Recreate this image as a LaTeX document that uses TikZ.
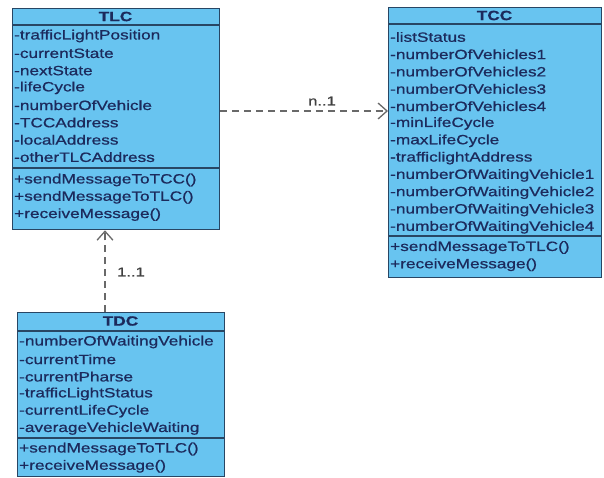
\documentclass[tikz,border=0pt]{standalone}
\usepackage{fontspec}
\setmainfont{Liberation Sans}[FakeStretch=1.28, FakeBold=0.8]
\usetikzlibrary{arrows.meta}

\definecolor{classfill}{RGB}{104,196,240}
\definecolor{classline}{RGB}{40,70,100}
\definecolor{classtext}{RGB}{28,42,92}
\definecolor{deplink}{RGB}{105,105,105}

\tikzset{
  classbox/.style={draw=classline, line width=1.3pt, fill=classfill, anchor=north west, inner sep=0pt},
  divider/.style={draw=classline, line width=1.1pt},
  member/.style={anchor=west, inner sep=0pt, text=classtext, font=\fontsize{13.5}{15}\selectfont},
  title/.style={inner sep=0pt, text=classtext, font=\bfseries\fontsize{13.5}{15}\selectfont},
  dep/.style={draw=deplink, line width=1.3pt, dash pattern=on 7pt off 5pt,
    -{Straight Barb[length=9pt, width=16pt, line width=1.3pt]}},
  mult/.style={inner sep=0pt, text=black!75, font=\fontsize{13}{15}\selectfont}
}

\begin{document}
\begin{tikzpicture}[x=1bp, y=-1bp]
\useasboundingbox (0,0) rectangle (604,478);

% ---- TLC ----
\node[classbox, minimum width=207bp, minimum height=221bp] (TLC) at (12,8) {};
\draw[divider] (12,25) -- (219,25);
\draw[divider] (12,168) -- (219,168);
\node[title] (tlc-name) at (115.5,16.5) {TLC};
\foreach \t [count=\i] in {-trafficLightPosition,-currentState,-nextState,-lifeCycle,-numberOfVehicle,-TCCAddress,-localAddress,-otherTLCAddress}
  \node[member] (tlc-a\i) at (14,{36+17.3*(\i-1)}) {\t};
\foreach \t [count=\i] in {+sendMessageToTCC(),+sendMessageToTLC(),+receiveMessage()}
  \node[member] (tlc-m\i) at (14,{180+17.3*(\i-1)}) {\t};

% ---- TCC ----
\node[classbox, minimum width=213bp, minimum height=270bp] (TCC) at (388,7) {};
\draw[divider] (388,24) -- (601,24);
\draw[divider] (388,236) -- (601,236);
\node[title] (tcc-name) at (494.5,15.5) {TCC};
\foreach \t [count=\i] in {-listStatus,-numberOfVehicles1,-numberOfVehicles2,-numberOfVehicles3,-numberOfVehicles4,-minLifeCycle,-maxLifeCycle,-trafficlightAddress,-numberOfWaitingVehicle1,-numberOfWaitingVehicle2,-numberOfWaitingVehicle3,-numberOfWaitingVehicle4}
  \node[member] (tcc-a\i) at (390,{37+17.3*(\i-1)}) {\t};
\foreach \t [count=\i] in {+sendMessageToTLC(),+receiveMessage()}
  \node[member] (tcc-m\i) at (390,{247.5+17.3*(\i-1)}) {\t};

% ---- TDC ----
\node[classbox, minimum width=207bp, minimum height=164bp] (TDC) at (17,312) {};
\draw[divider] (17,331) -- (224,331);
\draw[divider] (17,438) -- (224,438);
\node[title] (tdc-name) at (120.5,321) {TDC};
\foreach \t [count=\i] in {-numberOfWaitingVehicle,-currentTime,-currentPharse,-trafficLightStatus,-currentLifeCycle,-averageVehicleWaiting}
  \node[member] (tdc-a\i) at (19,{342+17.3*(\i-1)}) {\t};
\foreach \t [count=\i] in {+sendMessageToTLC(),+receiveMessage()}
  \node[member] (tdc-m\i) at (19,{449+17.3*(\i-1)}) {\t};

% ---- dependencies ----
\coordinate (row) at (0,111);
\coordinate (col) at (105,0);
\draw[dep] (TLC.east |- row) -- (TCC.west |- row);
\draw[dep] (col |- TDC.north) -- (col |- TLC.south);
\node[mult] (m-tcc) at (322,101) {n..1};
\node[mult] (m-tlc) at (131,272) {1..1};
\end{tikzpicture}
\end{document}
